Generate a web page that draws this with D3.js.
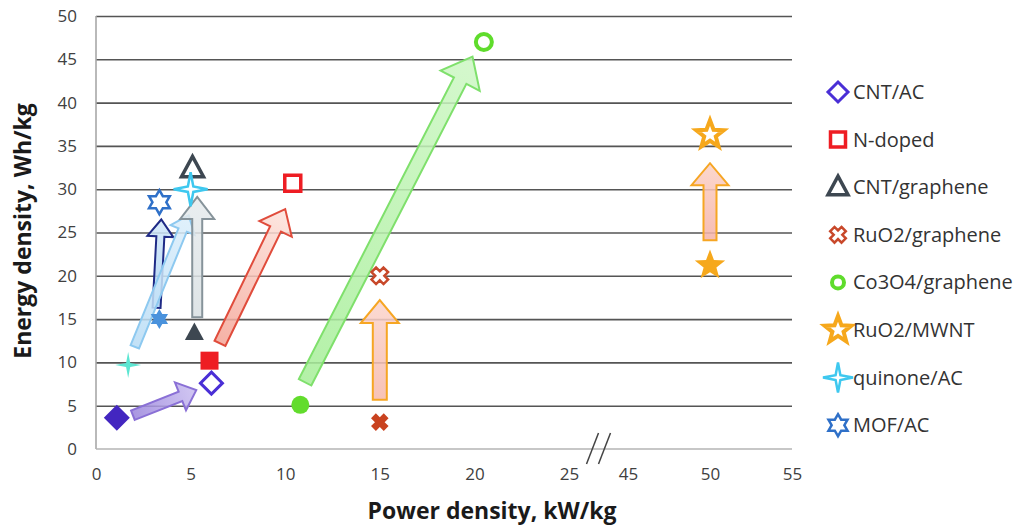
<!DOCTYPE html>
<html>
<head>
<meta charset="utf-8">
<script src="https://cdn.jsdelivr.net/npm/d3@7"></script>
<style>
  html, body { margin: 0; padding: 0; background: #fff; }
  svg { display: block; }
  text { font-family: "Open Sans", "Noto Sans", sans-serif; }
</style>
</head>
<body>
<svg id="chart" width="1020" height="525"></svg>
<script>
// Materials compared
const series = ["CNT/AC", "N-doped", "CNT/graphene", "RuO2/graphene", "Co3O4/graphene", "RuO2/MWNT", "quinone/AC", "MOF/AC"];
const shapes = ["diamond", "square", "triangle", "x", "circle", "star5", "star4", "star6"];
const colors = ["#4a2fd6", "#ee1d23", "#3d4751", "#c8482a", "#5fdc2c", "#f6a81c", "#3ec8ef", "#2f70c8"];
const fillColors = ["#4326c0", "#ee1d23", "#3d4751", "#c9421f", "#62dc2c", "#f6a81c", "#5ce6d2", "#4a92dc"];

// Power density (kW/kg) and energy density (Wh/kg): before (filled) and after (open)
const xBefore = [1.1, 6.0, 5.2, 15, 10.8, 50, 1.7, 3.35];
const yBefore = [3.6, 10.2, 13.4, 3.1, 5.1, 21.2, 9.7, 15.0];
const xAfter = [6.1, 10.4, 5.1, 15, 20.5, 50, 5.0, 3.35];
const yAfter = [7.6, 30.7, 32.4, 20.0, 47.0, 36.3, 30.0, 28.5];

// Improvement arrows (data coordinates)
const arrowFromX = [1.95, 6.55, 5.35, 15, 11.05, 50, 2.05, 3.2];
const arrowFromY = [3.9, 12.2, 15.2, 5.7, 7.7, 24.1, 11.8, 16.3];
const arrowToX = [5.3, 10.0, 5.35, 15, 19.9, 50, 4.9, 3.45];
const arrowToY = [6.8, 27.7, 29.1, 17.2, 45.3, 33.0, 27.0, 26.5];

// Axis ticks (the x axis is broken between 25 and 45)
const xTicks = [0, 5, 10, 15, 20, 25, 45, 50, 55];
const yTicks = [0, 5, 10, 15, 20, 25, 30, 35, 40, 45, 50];

const svg = d3.select("#chart");

const x = d3.scaleLinear().domain([0, 25, 45, 55]).range([96, 569, 628, 792]);
const y = d3.scaleLinear().domain([0, 50]).range([449, 16]);

// Grid lines
svg.append("g")
  .attr("transform", `translate(${x(0)},0)`)
  .call(d3.axisLeft(y).tickValues(yTicks.filter(d => d > 0)).tickSize(-(x(55) - x(0))).tickFormat(""))
  .call(g => g.select(".domain").remove())
  .call(g => g.selectAll("line").attr("stroke", "#555").attr("stroke-width", 1.6));

// Axis lines
svg.append("line").attr("x1", x(0)).attr("x2", x(0)).attr("y1", y(50)).attr("y2", y(0))
  .attr("stroke", "#a8a8a8").attr("stroke-width", 1.6);
svg.append("line").attr("x1", x(0)).attr("x2", x(55)).attr("y1", y(0)).attr("y2", y(0))
  .attr("stroke", "#b4b4b4").attr("stroke-width", 1.6);

// Tick labels
svg.append("g")
  .attr("transform", `translate(${x(0) - 19},0)`)
  .call(d3.axisLeft(y).tickValues(yTicks).tickSize(0).tickPadding(0))
  .call(g => g.select(".domain").remove())
  .call(g => g.selectAll("text").attr("font-size", 17).attr("fill", "#404040")
    .attr("font-family", "'Open Sans', sans-serif"));

svg.append("g")
  .attr("transform", `translate(0,${y(0) + 19})`)
  .call(d3.axisBottom(x).tickValues(xTicks).tickSize(0).tickPadding(0).tickFormat(d3.format("d")))
  .call(g => g.select(".domain").remove())
  .call(g => g.selectAll("text").attr("font-size", 17).attr("fill", "#404040")
    .attr("font-family", "'Open Sans', sans-serif"));

// Axis break marks
const bx = (x(25) + x(45)) / 2;
[-6, 6].forEach(off => {
  svg.append("line")
    .attr("x1", bx + off - 6).attr("y1", y(0) + 15)
    .attr("x2", bx + off + 6).attr("y2", y(0) - 16)
    .attr("stroke", "#444").attr("stroke-width", 1.5);
});

// Axis titles
svg.append("text")
  .attr("x", 492).attr("y", 519)
  .attr("text-anchor", "middle")
  .attr("font-size", 23).attr("font-weight", "bold").attr("fill", "#1a1a1a")
  .text("Power density, kW/kg");
svg.append("text")
  .attr("transform", `translate(31,231) rotate(-90)`)
  .attr("text-anchor", "middle")
  .attr("font-size", 23).attr("font-weight", "bold").attr("fill", "#1a1a1a")
  .text("Energy density, Wh/kg");

// Block arrows
const arrowStyle = [
  { fill: ["#c9bdf0", "#9a84dc"], stroke: "#8a70d6", w: 10, hw: 30, hl: 17 },
  { fill: ["#fde3dc", "#f4a496"], stroke: "#e04c3c", w: 12, hw: 36, hl: 22 },
  { fill: ["#e6ebed", "#d8dfe2"], stroke: "#86939a", w: 10, hw: 34, hl: 22 },
  { fill: ["#fbd4cb", "#f6b8aa"], stroke: "#f6a623", w: 14, hw: 38, hl: 23 },
  { fill: ["#cdf7c4", "#a6ee98"], stroke: "#7fe06c", w: 14, hw: 44, hl: 27 },
  { fill: ["#fbd0c4", "#f5b1a6"], stroke: "#f6a623", w: 13, hw: 37, hl: 22 },
  { fill: ["#dbeefb", "#b8dcf5"], stroke: "#8dc9f0", w: 9, hw: 26, hl: 16 },
  { fill: ["#d2e8fa", "#a8d0f2"], stroke: "#1f2a86", w: 8, hw: 26, hl: 17 }
];

function arrowPath(x0, y0, x1, y1, w, hw, hl) {
  const dx = x1 - x0, dy = y1 - y0;
  const len = Math.hypot(dx, dy);
  const ux = dx / len, uy = dy / len;
  const nx = -uy, ny = ux;
  const nxk = x1 - ux * hl, nyk = y1 - uy * hl;
  const pts = [
    [x0 + nx * w / 2, y0 + ny * w / 2],
    [nxk + nx * w / 2, nyk + ny * w / 2],
    [nxk + nx * hw / 2, nyk + ny * hw / 2],
    [x1, y1],
    [nxk - nx * hw / 2, nyk - ny * hw / 2],
    [nxk - nx * w / 2, nyk - ny * w / 2],
    [x0 - nx * w / 2, y0 - ny * w / 2]
  ];
  return "M" + pts.map(p => p.join(",")).join("L") + "Z";
}

const defs = svg.append("defs");
const arrowOrder = [7, 6, 2, 0, 1, 4, 3, 5];
const arrowLayer = svg.append("g");
arrowOrder.forEach(i => {
  const st = arrowStyle[i];
  const x0 = x(arrowFromX[i]), y0 = y(arrowFromY[i]);
  const x1 = x(arrowToX[i]), y1 = y(arrowToY[i]);
  const gid = "grad" + i;
  const grad = defs.append("linearGradient").attr("id", gid)
    .attr("gradientUnits", "userSpaceOnUse")
    .attr("x1", x0).attr("y1", y0).attr("x2", x1).attr("y2", y1);
  grad.append("stop").attr("offset", "0%").attr("stop-color", st.fill[1]);
  grad.append("stop").attr("offset", "100%").attr("stop-color", st.fill[0]);
  arrowLayer.append("path")
    .attr("d", arrowPath(x0, y0, x1, y1, st.w, st.hw, st.hl))
    .attr("fill", `url(#${gid})`)
    .attr("fill-opacity", 0.85)
    .attr("stroke", st.stroke)
    .attr("stroke-width", 2)
    .attr("stroke-linejoin", "miter");
});

// Marker shapes (r = half-size in px)
function shapePath(type, r) {
  const poly = pts => "M" + pts.map(p => p[0].toFixed(2) + "," + p[1].toFixed(2)).join("L") + "Z";
  switch (type) {
    case "diamond": return poly([[0, -r], [r, 0], [0, r], [-r, 0]]);
    case "square": return poly([[-r, -r], [r, -r], [r, r], [-r, r]]);
    case "triangle": return poly([[0, -r * 1.1], [r, r * 0.75], [-r, r * 0.75]]);
    case "circle": return d3.symbol(d3.symbolCircle, Math.PI * r * r)();
    case "x": {
      const a = r * 0.38;
      // plus-shaped outline turned 45 degrees
      const cross = [[-a, -r], [a, -r], [a, -a], [r, -a], [r, a], [a, a], [a, r], [-a, r], [-a, a], [-r, a], [-r, -a], [-a, -a]];
      const c = Math.SQRT1_2;
      return poly(cross.map(([px, py]) => [(px - py) * c, (px + py) * c]));
    }
    case "star5": {
      const pts = [];
      for (let k = 0; k < 10; k++) {
        const rad = k % 2 === 0 ? r : r * 0.42;
        const ang = -Math.PI / 2 + k * Math.PI / 5;
        pts.push([rad * Math.cos(ang), rad * Math.sin(ang)]);
      }
      return poly(pts);
    }
    case "star4": {
      const k = r * 0.16;
      return poly([[0, -r], [k, -k], [r, 0], [k, k], [0, r], [-k, k], [-r, 0], [-k, -k]]);
    }
    case "star6": {
      const pts = [];
      for (let k = 0; k < 12; k++) {
        const rad = k % 2 === 0 ? r : r / Math.sqrt(3);
        const ang = -Math.PI / 2 + k * Math.PI / 6;
        pts.push([rad * Math.cos(ang), rad * Math.sin(ang)]);
      }
      return poly(pts);
    }
  }
}

const filledSize = [13, 9, 9.5, 9, 9, 16, 13, 10];
const openSize = [11, 8, 11, 8.5, 8, 14.5, 17, 12];
const openStroke = [3, 3.5, 3.5, 2.5, 4, 4, 2.5, 2.5];

const markerLayer = svg.append("g");
series.forEach((s, i) => {
  markerLayer.append("path")
    .attr("transform", `translate(${x(xBefore[i])},${y(yBefore[i])})`)
    .attr("d", shapePath(shapes[i], filledSize[i]))
    .attr("fill", fillColors[i]);
});
series.forEach((s, i) => {
  markerLayer.append("path")
    .attr("transform", `translate(${x(xAfter[i])},${y(yAfter[i])})`)
    .attr("d", shapePath(shapes[i], openSize[i]))
    .attr("fill", "#fff")
    .attr("stroke", colors[i])
    .attr("stroke-width", openStroke[i])
    .attr("stroke-linejoin", "miter");
});

// Legend
const legendSize = [10, 7.5, 10, 8, 6, 14, 15, 11];
const legend = svg.append("g");
series.forEach((s, i) => {
  const ly = 92 + i * 47.6;
  legend.append("path")
    .attr("transform", `translate(838,${ly})`)
    .attr("d", shapePath(shapes[i], legendSize[i]))
    .attr("fill", "#fff")
    .attr("stroke", colors[i])
    .attr("stroke-width", openStroke[i]);
  legend.append("text")
    .attr("x", 853).attr("y", ly + 7)
    .attr("font-size", 20).attr("fill", "#333")
    .text(s);
});
</script>
</body>
</html>
